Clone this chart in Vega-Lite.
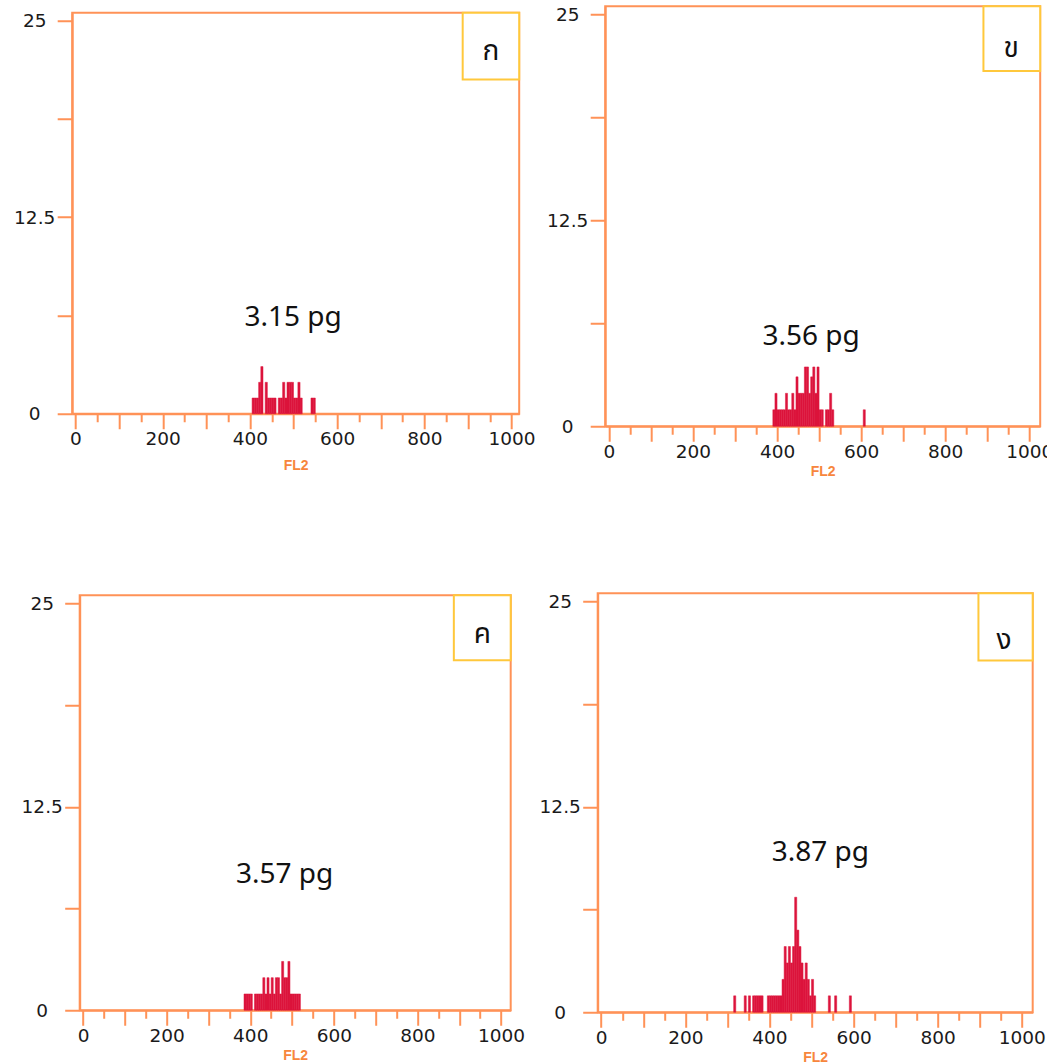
{
  "$schema": "https://vega.github.io/schema/vega-lite/v6.json",
  "padding": {"left": -24, "top": 4, "right": 0, "bottom": 0},
  "background": "white",
  "datasets": {
    "hist": [
      {"panel": "a", "start": 405, "end": 410, "count": 1},
      {"panel": "a", "start": 410, "end": 415, "count": 1},
      {"panel": "a", "start": 415, "end": 420, "count": 1},
      {"panel": "a", "start": 420, "end": 425, "count": 2},
      {"panel": "a", "start": 425, "end": 430, "count": 3},
      {"panel": "a", "start": 435, "end": 440, "count": 2},
      {"panel": "a", "start": 440, "end": 445, "count": 1},
      {"panel": "a", "start": 445, "end": 450, "count": 1},
      {"panel": "a", "start": 450, "end": 455, "count": 1},
      {"panel": "a", "start": 455, "end": 460, "count": 1},
      {"panel": "a", "start": 465, "end": 470, "count": 1},
      {"panel": "a", "start": 470, "end": 475, "count": 1},
      {"panel": "a", "start": 475, "end": 480, "count": 2},
      {"panel": "a", "start": 480, "end": 485, "count": 1},
      {"panel": "a", "start": 485, "end": 490, "count": 2},
      {"panel": "a", "start": 490, "end": 495, "count": 2},
      {"panel": "a", "start": 495, "end": 500, "count": 2},
      {"panel": "a", "start": 500, "end": 505, "count": 1},
      {"panel": "a", "start": 505, "end": 510, "count": 1},
      {"panel": "a", "start": 510, "end": 515, "count": 2},
      {"panel": "a", "start": 515, "end": 520, "count": 1},
      {"panel": "a", "start": 540, "end": 545, "count": 1},
      {"panel": "a", "start": 545, "end": 550, "count": 1},

      {"panel": "b", "start": 390, "end": 395, "count": 1},
      {"panel": "b", "start": 395, "end": 400, "count": 2},
      {"panel": "b", "start": 400, "end": 405, "count": 1},
      {"panel": "b", "start": 405, "end": 410, "count": 1},
      {"panel": "b", "start": 410, "end": 415, "count": 1},
      {"panel": "b", "start": 415, "end": 420, "count": 1},
      {"panel": "b", "start": 420, "end": 425, "count": 2},
      {"panel": "b", "start": 425, "end": 430, "count": 1},
      {"panel": "b", "start": 430, "end": 435, "count": 1},
      {"panel": "b", "start": 435, "end": 440, "count": 2},
      {"panel": "b", "start": 440, "end": 445, "count": 1},
      {"panel": "b", "start": 445, "end": 450, "count": 3},
      {"panel": "b", "start": 450, "end": 455, "count": 2},
      {"panel": "b", "start": 455, "end": 460, "count": 2},
      {"panel": "b", "start": 460, "end": 465, "count": 2},
      {"panel": "b", "start": 465, "end": 470, "count": 3.6},
      {"panel": "b", "start": 470, "end": 475, "count": 3.6},
      {"panel": "b", "start": 475, "end": 480, "count": 2},
      {"panel": "b", "start": 480, "end": 485, "count": 3},
      {"panel": "b", "start": 485, "end": 490, "count": 3.6},
      {"panel": "b", "start": 490, "end": 495, "count": 2},
      {"panel": "b", "start": 495, "end": 500, "count": 3.6},
      {"panel": "b", "start": 500, "end": 505, "count": 1},
      {"panel": "b", "start": 505, "end": 510, "count": 1},
      {"panel": "b", "start": 515, "end": 520, "count": 1},
      {"panel": "b", "start": 520, "end": 525, "count": 1},
      {"panel": "b", "start": 525, "end": 530, "count": 2},
      {"panel": "b", "start": 530, "end": 535, "count": 1},
      {"panel": "b", "start": 605, "end": 610, "count": 1},

      {"panel": "c", "start": 385, "end": 390, "count": 1},
      {"panel": "c", "start": 390, "end": 395, "count": 1},
      {"panel": "c", "start": 395, "end": 400, "count": 1},
      {"panel": "c", "start": 400, "end": 405, "count": 1},
      {"panel": "c", "start": 410, "end": 415, "count": 1},
      {"panel": "c", "start": 415, "end": 420, "count": 1},
      {"panel": "c", "start": 420, "end": 425, "count": 1},
      {"panel": "c", "start": 425, "end": 430, "count": 1},
      {"panel": "c", "start": 430, "end": 435, "count": 2},
      {"panel": "c", "start": 435, "end": 440, "count": 1},
      {"panel": "c", "start": 440, "end": 445, "count": 2},
      {"panel": "c", "start": 445, "end": 450, "count": 1},
      {"panel": "c", "start": 450, "end": 455, "count": 2},
      {"panel": "c", "start": 455, "end": 460, "count": 1},
      {"panel": "c", "start": 460, "end": 465, "count": 2},
      {"panel": "c", "start": 465, "end": 470, "count": 2},
      {"panel": "c", "start": 470, "end": 475, "count": 1},
      {"panel": "c", "start": 475, "end": 480, "count": 3},
      {"panel": "c", "start": 480, "end": 485, "count": 2},
      {"panel": "c", "start": 485, "end": 490, "count": 2},
      {"panel": "c", "start": 490, "end": 495, "count": 3},
      {"panel": "c", "start": 495, "end": 500, "count": 1},
      {"panel": "c", "start": 500, "end": 505, "count": 1},
      {"panel": "c", "start": 505, "end": 510, "count": 1},
      {"panel": "c", "start": 510, "end": 515, "count": 1},
      {"panel": "c", "start": 515, "end": 520, "count": 1},

      {"panel": "d", "start": 315, "end": 320, "count": 1},
      {"panel": "d", "start": 340, "end": 345, "count": 1},
      {"panel": "d", "start": 350, "end": 355, "count": 1},
      {"panel": "d", "start": 360, "end": 365, "count": 1},
      {"panel": "d", "start": 365, "end": 370, "count": 1},
      {"panel": "d", "start": 370, "end": 375, "count": 1},
      {"panel": "d", "start": 375, "end": 380, "count": 1},
      {"panel": "d", "start": 380, "end": 385, "count": 1},
      {"panel": "d", "start": 395, "end": 400, "count": 1},
      {"panel": "d", "start": 400, "end": 405, "count": 1},
      {"panel": "d", "start": 405, "end": 410, "count": 1},
      {"panel": "d", "start": 410, "end": 415, "count": 1},
      {"panel": "d", "start": 415, "end": 420, "count": 1},
      {"panel": "d", "start": 420, "end": 425, "count": 1},
      {"panel": "d", "start": 425, "end": 430, "count": 1},
      {"panel": "d", "start": 430, "end": 435, "count": 2},
      {"panel": "d", "start": 435, "end": 440, "count": 4},
      {"panel": "d", "start": 440, "end": 445, "count": 3},
      {"panel": "d", "start": 445, "end": 450, "count": 4},
      {"panel": "d", "start": 450, "end": 455, "count": 3},
      {"panel": "d", "start": 455, "end": 460, "count": 4},
      {"panel": "d", "start": 460, "end": 465, "count": 7},
      {"panel": "d", "start": 465, "end": 470, "count": 5},
      {"panel": "d", "start": 470, "end": 475, "count": 4},
      {"panel": "d", "start": 475, "end": 480, "count": 3},
      {"panel": "d", "start": 480, "end": 485, "count": 2},
      {"panel": "d", "start": 485, "end": 490, "count": 3},
      {"panel": "d", "start": 490, "end": 495, "count": 2},
      {"panel": "d", "start": 495, "end": 500, "count": 1},
      {"panel": "d", "start": 500, "end": 505, "count": 2},
      {"panel": "d", "start": 505, "end": 510, "count": 1},
      {"panel": "d", "start": 540, "end": 545, "count": 1},
      {"panel": "d", "start": 555, "end": 560, "count": 1},
      {"panel": "d", "start": 590, "end": 595, "count": 1}
    ],
    "notes": [
      {"panel": "a", "label": "3.15 pg", "x": 499, "y": 6.1},
      {"panel": "b", "label": "3.56 pg", "x": 481, "y": 5.4},
      {"panel": "c", "label": "3.57 pg", "x": 482, "y": 8.3},
      {"panel": "d", "label": "3.87 pg", "x": 521, "y": 9.7}
    ],
    "tags": [
      {"panel": "a", "letter": "ก", "x0": 888, "x1": 1017.6, "y0": 21.25, "y1": 25.5, "lx": 953, "ly": 23.0},
      {"panel": "b", "letter": "ข", "x0": 891, "x1": 1026, "y0": 21.57, "y1": 25.5, "lx": 957, "ly": 22.9},
      {"panel": "c", "letter": "ค", "x0": 887, "x1": 1023, "y0": 21.5, "y1": 25.5, "lx": 955, "ly": 23.05},
      {"panel": "d", "letter": "ง", "x0": 897, "x1": 1026, "y0": 21.4, "y1": 25.5, "lx": 958, "ly": 22.6}
    ]
  },
  "spacing": 111,
  "center": true,
  "bounds": "full",
  "vconcat": [
    {
      "hconcat": [
        {
          "width": 447, "height": 401,
          "resolve": {"axis": {"x": "independent"}},
          "layer": [
            {
              "data": {"name": "hist"},
              "transform": [{"filter": "datum.panel == 'a'"}],
              "mark": {"type": "bar", "color": "#dc143c", "stroke": "#dc143c", "strokeWidth": 0.5},
              "encoding": {
                "x": {"field": "start", "type": "quantitative", "scale": {"domain": [-7.6, 1017.6], "nice": false, "zero": false},
                  "axis": {"title": "FL2", "titlePadding": 10, "orient": "bottom", "values": [0,100,200,300,400,500,600,700,800,900,1000], "format": "d", "labelExpr": "datum.value % 200 === 0 ? datum.label : ''", "tickSize": 15}},
                "x2": {"field": "end"},
                "y": {"field": "count", "type": "quantitative", "scale": {"domain": [0, 25.5], "nice": false},
                  "axis": {"title": null, "values": [0, 6.25, 12.5, 18.75, 25], "labelExpr": "datum.value === 0 ? '0' : datum.value === 12.5 ? '12.5' : datum.value === 25 ? '25' : ''"}},
                "y2": {"datum": 0}
              }
            },
            {
              "data": {"name": "notes"},
              "transform": [{"filter": "datum.panel == 'a'"}],
              "mark": {"type": "text", "fontSize": 28, "font": "Noto Sans", "color": "#111111"},
              "encoding": {
                "x": {"field": "x", "type": "quantitative", "axis": {"title": null, "orient": "bottom", "values": [50,150,250,350,450,550,650,750,850,950], "labels": false, "domain": false, "tickSize": 8}},
                "y": {"field": "y", "type": "quantitative", "axis": {"title": null}},
                "text": {"field": "label"}
              }
            },
            {
              "data": {"name": "tags"},
              "transform": [{"filter": "datum.panel == 'a'"}],
              "mark": {"type": "rect", "fill": "white", "stroke": "#ffc83c", "strokeWidth": 2},
              "encoding": {
                "x": {"field": "x0", "type": "quantitative", "axis": null},
                "x2": {"field": "x1"},
                "y": {"field": "y0", "type": "quantitative", "axis": {"title": null}},
                "y2": {"field": "y1"}
              }
            },
            {
              "data": {"name": "tags"},
              "transform": [{"filter": "datum.panel == 'a'"}],
              "mark": {"type": "text", "fontSize": 28, "font": "Noto Sans Thai, Noto Sans, sans-serif", "color": "#111111", "baseline": "middle"},
              "encoding": {
                "x": {"field": "lx", "type": "quantitative", "axis": null},
                "y": {"field": "ly", "type": "quantitative", "axis": {"title": null}},
                "text": {"field": "letter"}
              }
            }
          ]
        },
        {
          "width": 435, "height": 420,
          "resolve": {"axis": {"x": "independent"}},
          "layer": [
            {
              "data": {"name": "hist"},
              "transform": [{"filter": "datum.panel == 'b'"}],
              "mark": {"type": "bar", "color": "#dc143c", "stroke": "#dc143c", "strokeWidth": 0.5},
              "encoding": {
                "x": {"field": "start", "type": "quantitative", "scale": {"domain": [-8.8, 1026], "nice": false, "zero": false},
                  "axis": {"title": "FL2", "orient": "bottom", "values": [0,100,200,300,400,500,600,700,800,900,1000], "format": "d", "labelExpr": "datum.value % 200 === 0 ? datum.label : ''", "tickSize": 15}},
                "x2": {"field": "end"},
                "y": {"field": "count", "type": "quantitative", "scale": {"domain": [0, 25.5], "nice": false},
                  "axis": {"title": null, "values": [0, 6.25, 12.5, 18.75, 25], "labelExpr": "datum.value === 0 ? '0' : datum.value === 12.5 ? '12.5' : datum.value === 25 ? '25' : ''"}},
                "y2": {"datum": 0}
              }
            },
            {
              "data": {"name": "notes"},
              "transform": [{"filter": "datum.panel == 'b'"}],
              "mark": {"type": "text", "fontSize": 28, "font": "Noto Sans", "color": "#111111"},
              "encoding": {
                "x": {"field": "x", "type": "quantitative", "axis": {"title": null, "orient": "bottom", "values": [50,150,250,350,450,550,650,750,850,950], "labels": false, "domain": false, "tickSize": 8}},
                "y": {"field": "y", "type": "quantitative", "axis": {"title": null}},
                "text": {"field": "label"}
              }
            },
            {
              "data": {"name": "tags"},
              "transform": [{"filter": "datum.panel == 'b'"}],
              "mark": {"type": "rect", "fill": "white", "stroke": "#ffc83c", "strokeWidth": 2},
              "encoding": {
                "x": {"field": "x0", "type": "quantitative", "axis": null},
                "x2": {"field": "x1"},
                "y": {"field": "y0", "type": "quantitative", "axis": {"title": null}},
                "y2": {"field": "y1"}
              }
            },
            {
              "data": {"name": "tags"},
              "transform": [{"filter": "datum.panel == 'b'"}],
              "mark": {"type": "text", "fontSize": 28, "font": "Noto Sans Thai, Noto Sans, sans-serif", "color": "#111111", "baseline": "middle"},
              "encoding": {
                "x": {"field": "lx", "type": "quantitative", "axis": null},
                "y": {"field": "ly", "type": "quantitative", "axis": {"title": null}},
                "text": {"field": "letter"}
              }
            }
          ]
        }
      ],
      "spacing": 9,
      "center": true
    },
    {
      "hconcat": [
        {
          "width": 431, "height": 415,
          "resolve": {"axis": {"x": "independent"}},
          "layer": [
            {
              "data": {"name": "hist"},
              "transform": [{"filter": "datum.panel == 'c'"}],
              "mark": {"type": "bar", "color": "#dc143c", "stroke": "#dc143c", "strokeWidth": 0.5},
              "encoding": {
                "x": {"field": "start", "type": "quantitative", "scale": {"domain": [-8, 1023], "nice": false, "zero": false},
                  "axis": {"title": "FL2", "orient": "bottom", "values": [0,100,200,300,400,500,600,700,800,900,1000], "format": "d", "labelExpr": "datum.value % 200 === 0 ? datum.label : ''", "tickSize": 15}},
                "x2": {"field": "end"},
                "y": {"field": "count", "type": "quantitative", "scale": {"domain": [0, 25.5], "nice": false},
                  "axis": {"title": " ", "titleFontSize": 10, "titlePadding": 34, "values": [0, 6.25, 12.5, 18.75, 25], "labelExpr": "datum.value === 0 ? '0' : datum.value === 12.5 ? '12.5' : datum.value === 25 ? '25' : ''"}},
                "y2": {"datum": 0}
              }
            },
            {
              "data": {"name": "notes"},
              "transform": [{"filter": "datum.panel == 'c'"}],
              "mark": {"type": "text", "fontSize": 28, "font": "Noto Sans", "color": "#111111"},
              "encoding": {
                "x": {"field": "x", "type": "quantitative", "axis": {"title": null, "orient": "bottom", "values": [50,150,250,350,450,550,650,750,850,950], "labels": false, "domain": false, "tickSize": 8}},
                "y": {"field": "y", "type": "quantitative", "axis": {"title": " "}},
                "text": {"field": "label"}
              }
            },
            {
              "data": {"name": "tags"},
              "transform": [{"filter": "datum.panel == 'c'"}],
              "mark": {"type": "rect", "fill": "white", "stroke": "#ffc83c", "strokeWidth": 2},
              "encoding": {
                "x": {"field": "x0", "type": "quantitative", "axis": null},
                "x2": {"field": "x1"},
                "y": {"field": "y0", "type": "quantitative", "axis": {"title": " "}},
                "y2": {"field": "y1"}
              }
            },
            {
              "data": {"name": "tags"},
              "transform": [{"filter": "datum.panel == 'c'"}],
              "mark": {"type": "text", "fontSize": 28, "font": "Noto Sans Thai, Noto Sans, sans-serif", "color": "#111111", "baseline": "middle"},
              "encoding": {
                "x": {"field": "lx", "type": "quantitative", "axis": null},
                "y": {"field": "ly", "type": "quantitative", "axis": {"title": " "}},
                "text": {"field": "letter"}
              }
            }
          ]
        },
        {
          "width": 435, "height": 419,
          "resolve": {"axis": {"x": "independent"}},
          "layer": [
            {
              "data": {"name": "hist"},
              "transform": [{"filter": "datum.panel == 'd'"}],
              "mark": {"type": "bar", "color": "#dc143c", "stroke": "#dc143c", "strokeWidth": 0.5},
              "encoding": {
                "x": {"field": "start", "type": "quantitative", "scale": {"domain": [-8.3, 1026], "nice": false, "zero": false},
                  "axis": {"title": "FL2", "orient": "bottom", "values": [0,100,200,300,400,500,600,700,800,900,1000], "format": "d", "labelExpr": "datum.value % 200 === 0 ? datum.label : ''", "tickSize": 15}},
                "x2": {"field": "end"},
                "y": {"field": "count", "type": "quantitative", "scale": {"domain": [0, 25.5], "nice": false},
                  "axis": {"title": null, "values": [0, 6.25, 12.5, 18.75, 25], "labelExpr": "datum.value === 0 ? '0' : datum.value === 12.5 ? '12.5' : datum.value === 25 ? '25' : ''"}},
                "y2": {"datum": 0}
              }
            },
            {
              "data": {"name": "notes"},
              "transform": [{"filter": "datum.panel == 'd'"}],
              "mark": {"type": "text", "fontSize": 28, "font": "Noto Sans", "color": "#111111"},
              "encoding": {
                "x": {"field": "x", "type": "quantitative", "axis": {"title": null, "orient": "bottom", "values": [50,150,250,350,450,550,650,750,850,950], "labels": false, "domain": false, "tickSize": 8}},
                "y": {"field": "y", "type": "quantitative", "axis": {"title": null}},
                "text": {"field": "label"}
              }
            },
            {
              "data": {"name": "tags"},
              "transform": [{"filter": "datum.panel == 'd'"}],
              "mark": {"type": "rect", "fill": "white", "stroke": "#ffc83c", "strokeWidth": 2},
              "encoding": {
                "x": {"field": "x0", "type": "quantitative", "axis": null},
                "x2": {"field": "x1"},
                "y": {"field": "y0", "type": "quantitative", "axis": {"title": null}},
                "y2": {"field": "y1"}
              }
            },
            {
              "data": {"name": "tags"},
              "transform": [{"filter": "datum.panel == 'd'"}],
              "mark": {"type": "text", "fontSize": 28, "font": "Noto Sans Thai, Noto Sans, sans-serif", "color": "#111111", "baseline": "middle"},
              "encoding": {
                "x": {"field": "lx", "type": "quantitative", "axis": null},
                "y": {"field": "ly", "type": "quantitative", "axis": {"title": null}},
                "text": {"field": "letter"}
              }
            }
          ]
        }
      ],
      "spacing": 12,
      "center": true
    }
  ],
  "config": {
    "view": {"stroke": "#ff9257", "strokeWidth": 2},
    "axis": {
      "domainColor": "#ff9257", "domainWidth": 2,
      "tickColor": "#ff9257", "tickWidth": 2,
      "grid": false,
      "labelFont": "DejaVu Sans", "labelFontSize": 18.5, "labelColor": "#1a1a1a",
      "labelOverlap": false, "labelFlush": false, "labelBound": false
    },
    "axisX": {
      "labelPadding": 1,
      "titleFont": "Liberation Sans", "titleFontSize": 14, "titleFontWeight": "bold",
      "titleColor": "#f7863d", "titlePadding": 4
    },
    "axisY": {
      "tickSize": 15, "labelAlign": "center", "labelPadding": 23
    }
  }
}
